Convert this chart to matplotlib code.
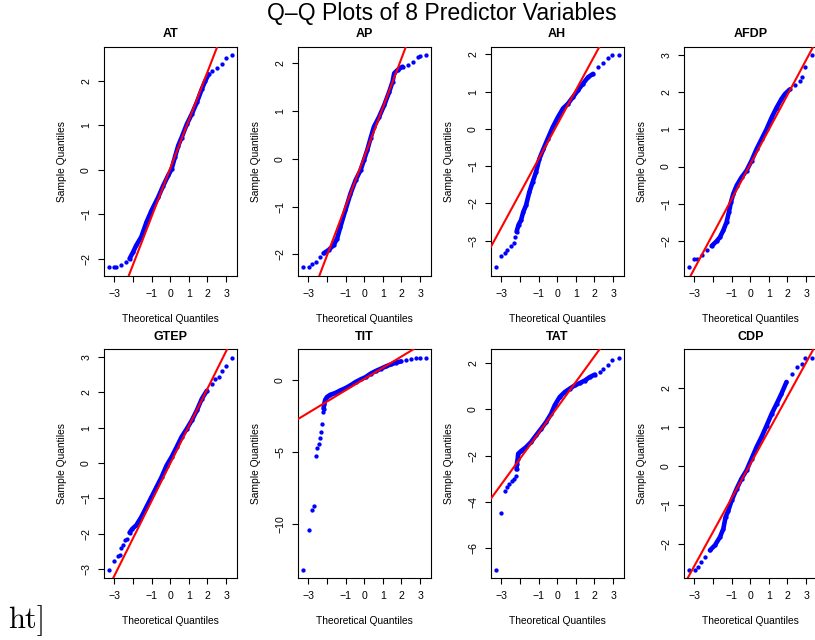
import numpy as np
import matplotlib
matplotlib.use("Agg")
import matplotlib.pyplot as plt

plt.rcParams['font.family'] = ['Liberation Sans', 'DejaVu Sans']

# ---------------- data ----------------
titles = ["AT", "AP", "AH", "AFDP", "GTEP", "TIT", "TAT", "CDP"]

at_theo = [-3.3, -3.0, -2.91, -2.64, -2.37, -2.19, -2.0, -1.83, -1.56, -1.28, -1.01, -0.65, -0.38, -0.11, 0.07, 0.25,
           0.43, 0.61, 0.89, 1.16, 1.43, 1.70, 1.88, 2.06, 2.24, 2.51, 2.78, 3.0, 3.3]
at_samp = [-2.19, -2.19, -2.19, -2.13, -2.07, -2.0, -1.85, -1.70, -1.51, -1.18, -0.92, -0.62, -0.36, -0.13, 0.01, 0.28,
           0.54, 0.72, 1.02, 1.25, 1.51, 1.81, 1.99, 2.14, 2.22, 2.29, 2.37, 2.51, 2.57]

ap_theo = [-3.3, -2.97, -2.82, -2.59, -2.37, -2.19, -1.92, -1.65, -1.46, -1.28, -1.01, -0.74, -0.47, -0.20, -0.02, 0.16,
           0.34, 0.52, 0.80, 1.07, 1.34, 1.52, 1.61, 1.79, 2.06, 2.33, 2.60, 2.88, 3.0, 3.3]
ap_samp = [-2.27, -2.27, -2.20, -2.17, -2.05, -1.98, -1.91, -1.81, -1.67, -1.42, -1.07, -0.73, -0.45, -0.24, -0.03, 0.18,
           0.43, 0.67, 0.88, 1.12, 1.40, 1.61, 1.79, 1.86, 1.93, 1.97, 2.03, 2.14, 2.15, 2.17]

ah_theo = [-3.3, -3.0, -2.80, -2.68, -2.50, -2.35, -2.26, -2.19, -2.08, -1.95, -1.83, -1.68, -1.50, -1.32, -1.14, -0.96,
           -0.74, -0.51, -0.24, 0.04, 0.31, 0.58, 0.85, 1.12, 1.39, 1.66, 1.93, 2.21, 2.48, 2.75, 2.97, 3.3]
ah_samp = [-3.71, -3.42, -3.32, -3.26, -3.14, -3.05, -2.90, -2.76, -2.57, -2.45, -2.23, -2.05, -1.69, -1.42, -1.15, -0.80,
           -0.53, -0.26, 0.05, 0.32, 0.55, 0.68, 0.86, 1.04, 1.22, 1.39, 1.48, 1.66, 1.78, 1.90, 1.98, 1.98]

afdp_theo = [-3.3, -3.01, -2.89, -2.62, -2.35, -2.08, -1.81, -1.63, -1.45, -1.27, -1.15, -1.04, -0.91, -0.73, -0.47, -0.20,
             0.07, 0.34, 0.61, 0.88, 1.15, 1.42, 1.68, 1.86, 2.13, 2.40, 2.67, 2.80, 2.97, 3.3]
afdp_samp = [-2.71, -2.50, -2.48, -2.39, -2.25, -2.14, -2.01, -1.90, -1.72, -1.49, -1.23, -0.96, -0.73, -0.51, -0.29, -0.11,
             0.16, 0.47, 0.74, 1.01, 1.32, 1.59, 1.82, 1.95, 2.08, 2.19, 2.31, 2.40, 2.69, 3.00]

gtep_theo = [-3.3, -3.0, -2.82, -2.73, -2.64, -2.55, -2.41, -2.31, -2.19, -2.04, -1.83, -1.56, -1.28, -1.01, -0.74, -0.47,
             -0.20, 0.07, 0.34, 0.61, 0.89, 1.16, 1.43, 1.70, 1.97, 2.24, 2.42, 2.60, 2.78, 3.0, 3.3]
gtep_samp = [-3.02, -2.77, -2.64, -2.61, -2.39, -2.33, -2.19, -2.14, -1.97, -1.86, -1.76, -1.53, -1.24, -0.96, -0.68, -0.40,
             -0.07, 0.17, 0.45, 0.74, 0.97, 1.21, 1.49, 1.82, 2.05, 2.24, 2.38, 2.45, 2.62, 2.76, 2.98]

tit_theo = [-3.3, -2.98, -2.82, -2.71, -2.62, -2.55, -2.46, -2.37, -2.31, -2.28, -2.24, -2.19, -2.15, -2.10, -2.01, -1.83,
            -1.56, -1.28, -1.01, -0.74, -0.47, -0.20, 0.07, 0.34, 0.61, 0.89, 1.16, 1.43, 1.70, 1.97, 2.24, 2.51, 2.78,
            3.0, 3.3]
tit_samp = [-13.16, -10.39, -9.05, -8.71, -5.31, -4.71, -4.43, -4.04, -3.65, -3.05, -2.24, -2.01, -1.66, -1.39, -1.20,
            -1.04, -0.92, -0.74, -0.58, -0.39, -0.16, 0.02, 0.18, 0.42, 0.60, 0.76, 0.92, 1.06, 1.18, 1.27, 1.34, 1.43,
            1.48, 1.50, 1.52]

tat_theo = [-3.3, -3.0, -2.82, -2.71, -2.59, -2.44, -2.31, -2.22, -2.19, -2.17, -2.13, -2.10, -1.95, -1.68, -1.41, -1.14,
            -0.87, -0.60, -0.33, -0.14, 0.13, 0.40, 0.67, 0.94, 1.21, 1.48, 1.75, 2.03, 2.30, 2.48, 2.75, 2.97, 3.3]
tat_samp = [-6.92, -4.46, -3.54, -3.36, -3.24, -3.10, -3.0, -2.86, -2.60, -2.35, -2.14, -1.92, -1.81, -1.64, -1.42, -1.13,
            -0.85, -0.56, -0.20, 0.16, 0.52, 0.73, 0.88, 1.02, 1.12, 1.23, 1.38, 1.49, 1.59, 1.71, 1.92, 2.12, 2.21]

cdp_theo = [-3.3, -2.97, -2.83, -2.65, -2.44, -2.17, -1.90, -1.63, -1.45, -1.33, -1.18, -1.0, -0.73, -0.47, -0.20, 0.07,
            0.34, 0.61, 0.88, 1.15, 1.42, 1.68, 1.95, 2.22, 2.49, 2.76, 2.97, 3.3]
cdp_samp = [-2.67, -2.67, -2.60, -2.47, -2.34, -2.17, -2.04, -1.83, -1.62, -1.32, -1.15, -0.89, -0.59, -0.33, -0.12, 0.18,
            0.48, 0.74, 1.03, 1.33, 1.59, 1.85, 2.15, 2.36, 2.53, 2.60, 2.77, 2.77]

# reference (qqline) lines: intercept and slope per panel
line_intercepts = [0.03, 0.04, 0.12, 0.06, -0.01, 0.05, 0.07, 0.04]
line_slopes = [1.08, 1.03, 0.92, 0.935, 1.057, 0.778, 1.10, 0.868]

x_ticks = [-3, -2, -1, 0, 1, 2, 3]
x_tick_labels = ["\u22123", "", "\u22121", "0", "1", "2", "3"]
y_ticks_list = [
    [-2, -1, 0, 1, 2],
    [-2, -1, 0, 1, 2],
    [-3, -2, -1, 0, 1, 2],
    [-2, -1, 0, 1, 2, 3],
    [-3, -2, -1, 0, 1, 2, 3],
    [-10, -5, 0],
    [-6, -4, -2, 0, 2],
    [-2, -1, 0, 1, 2],
]
main_title = "Q\u2013Q Plots of 8 Predictor Variables"

theo_all = [at_theo, ap_theo, ah_theo, afdp_theo, gtep_theo, tit_theo, tat_theo, cdp_theo]
samp_all = [at_samp, ap_samp, ah_samp, afdp_samp, gtep_samp, tit_samp, tat_samp, cdp_samp]

# ---------------- layout ----------------
W, H = 815, 640
fig = plt.figure(figsize=(W / 100, H / 100), dpi=100)
col_left = [104, 298, 491, 684]
ax_w = 132.5
row_top = [46.7, 349.3]
ax_h = 229.0

BLUE = (0, 0, 1)
RED = (1, 0, 0)

for i, title in enumerate(titles):
    r, c = divmod(i, 4)
    ax = fig.add_axes([col_left[c] / W, 1 - (row_top[r] + ax_h) / H, ax_w / W, ax_h / H])
    x = np.asarray(theo_all[i], float)
    y = np.asarray(samp_all[i], float)

    # dense body of the Q-Q cloud drawn as a thick band, all points as dots
    body_x = np.where(np.abs(x) <= 2.2, x, np.nan)
    ax.plot(body_x, y, color=BLUE, lw=3.3, solid_capstyle='round', solid_joinstyle='round', zorder=2)
    ax.plot(x, y, 'o', color=BLUE, ms=3.1, mew=0, zorder=3)
    ax.axline((0, line_intercepts[i]), slope=line_slopes[i], color=RED, lw=1.5, zorder=4)

    xr = x.max() - x.min()
    yr = y.max() - y.min()
    ax.set_xlim(x.min() - 0.04 * xr, x.max() + 0.04 * xr)
    ax.set_ylim(y.min() - 0.04 * yr, y.max() + 0.04 * yr)

    ax.set_xticks(x_ticks)
    ax.set_xticklabels(x_tick_labels)
    ax.set_yticks(y_ticks_list[i])
    for lab in ax.get_yticklabels():
        lab.set_rotation(90)
        lab.set_va('center')
    ax.tick_params(axis='both', length=4.3, width=0.8, labelsize=7.6, colors='black')
    ax.tick_params(axis='x', pad=5)
    ax.tick_params(axis='y', pad=5)
    for sp in ax.spines.values():
        sp.set_linewidth(0.8)
        sp.set_color('black')

    ax.set_xlabel("Theoretical Quantiles", fontsize=7.4)
    ax.set_ylabel("Sample Quantiles", fontsize=7.4)
    ax.xaxis.label.set_va('center')
    ax.yaxis.label.set_va('center')
    ax.xaxis.set_label_coords(0.5, -43 / ax_h)
    ax.yaxis.set_label_coords(-42 / ax_w, 0.5)

    ax.text(0.5, 1 + 12.4 / ax_h, title, transform=ax.transAxes, ha='center', va='center',
            fontsize=9, fontweight='bold')

fig.text(441.5 / W, 1 - 20 / H, main_title, ha='center', va='baseline', fontsize=16.6)
fig.text(8 / W, 1 - 628 / H, "ht]", ha='left', va='baseline', fontsize=22, family='cmr10')

fig.savefig("out.png", dpi=100)
